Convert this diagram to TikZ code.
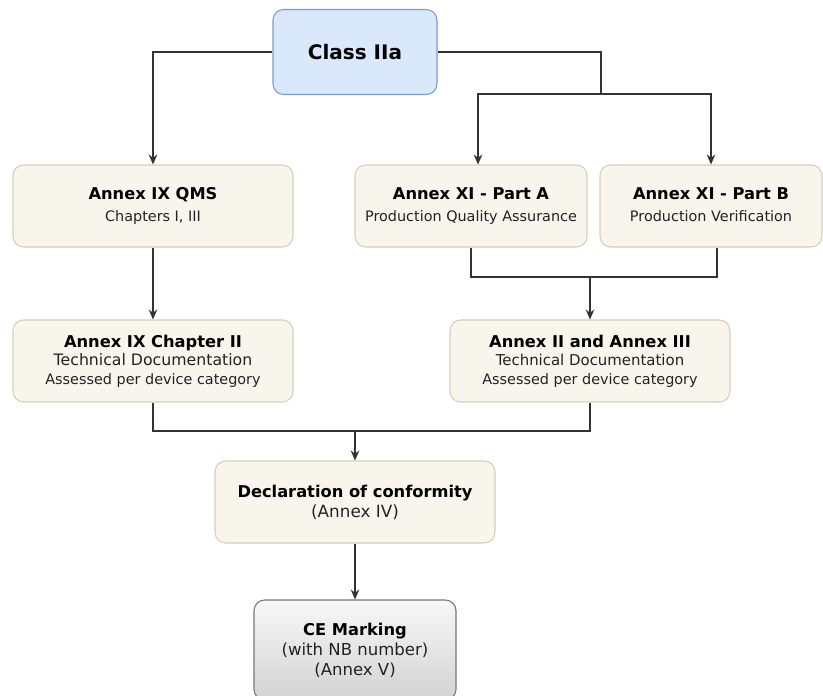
\documentclass[tikz,border=0pt]{standalone}
\usepackage{fontspec}
\setmainfont{DejaVu Sans}
\usetikzlibrary{arrows.meta, positioning, calc}
\definecolor{classfill}{HTML}{DAE8FC}
\definecolor{classline}{HTML}{7C9CCB}
\definecolor{annexfill}{HTML}{F8F6EC}
\definecolor{annexline}{HTML}{D6CFB5}
\definecolor{markline}{HTML}{777777}
\definecolor{wire}{HTML}{333333}
\definecolor{subtext}{HTML}{222222}

\newcommand{\ttl}[1]{{\bfseries\fontsize{12.2}{16}\selectfont #1}}
\newcommand{\sub}[1]{{\color{subtext}\fontsize{10.8}{16}\selectfont #1\vphantom{Qy}}}
\newcommand{\subbig}[1]{{\color{subtext}\fontsize{11.8}{16}\selectfont #1}}

\begin{document}
\begin{tikzpicture}[
    x=0.75pt, y=-0.75pt,
    every node/.style={align=center, inner sep=2pt, font=\fontsize{11}{16}\selectfont},
    classbox/.style={draw=classline, fill=classfill, rounded corners=8pt, line width=0.8pt,
        minimum width=123pt, minimum height=63.75pt},
    annexbox/.style={draw=annexline, fill=annexfill, rounded corners=8pt, line width=0.8pt,
        minimum height=61.5pt},
    markbox/.style={draw=markline, top color=gray!6, bottom color=gray!35, rounded corners=8pt,
        line width=0.8pt, minimum width=151.5pt, minimum height=75pt},
    wireline/.style={draw=wire, line width=0.9pt},
    conn/.style={wireline, -{Stealth[length=7.5pt, width=6.5pt]}}
]
\useasboundingbox (0,0) rectangle (823,695);

% Boxes
\node[classbox] (cls) at (355,52) {{\bfseries\fontsize{15}{18}\selectfont Class IIa}};

\node[annexbox, minimum width=210pt] (qms) at (153,206) {\ttl{Annex IX QMS}\\\sub{Chapters I, III}};
\node[annexbox, minimum width=174pt] (xiA) at (471,206) {\ttl{Annex XI - Part A}\\\sub{Production Quality Assurance}};
\node[annexbox, minimum width=166.5pt] (xiB) at (711,206) {\ttl{Annex XI - Part B}\\\sub{Production Verification}};

\node[annexbox, minimum width=210pt] (ch2) at (153,361)
    {\ttl{Annex IX Chapter II}\\[-2pt]\subbig{Technical Documentation}\\[-2pt]\sub{Assessed per device category}};
\node[annexbox, minimum width=210pt] (ann2) at (590,361)
    {\ttl{Annex II and Annex III}\\[-2pt]{\color{subtext}\fontsize{11.2}{16}\selectfont Technical Documentation}\\[-2pt]\sub{Assessed per device category}};

\node[annexbox, minimum width=210pt] (decl) at (355,502) {\ttl{Declaration of conformity}\\[-1pt]{\color{subtext}\fontsize{12.6}{16}\selectfont (Annex IV)}};

\node[markbox] (ce) at (355,650)
    {\ttl{CE Marking}\\[-1pt]{\color{subtext}\fontsize{12.4}{16}\selectfont (with NB number)}\\[-1pt]{\color{subtext}\fontsize{12.4}{16}\selectfont (Annex V)}};

% Connectors
\coordinate (splitB) at (601,94);
\coordinate (joinA) at (590,277);
\coordinate (joinB) at (355,431);

\draw[conn] (cls.west) -| (qms.north);
\draw[wireline] (cls.east) -| (splitB);
\draw[conn] (splitB) -| ($(xiA.north)+(7,0)$);
\draw[conn] (splitB) -| (xiB.north);

\draw[conn] (qms) -- (ch2);

\draw[wireline] (xiA.south) |- (joinA) -| ($(xiB.south)+(6,0)$);
\draw[conn] (joinA) -- (ann2.north);

\draw[wireline] (ch2.south) |- (joinB) -| (ann2.south);
\draw[conn] (joinB) -- (decl.north);

\draw[conn] (decl) -- (ce);

\end{tikzpicture}
\end{document}
